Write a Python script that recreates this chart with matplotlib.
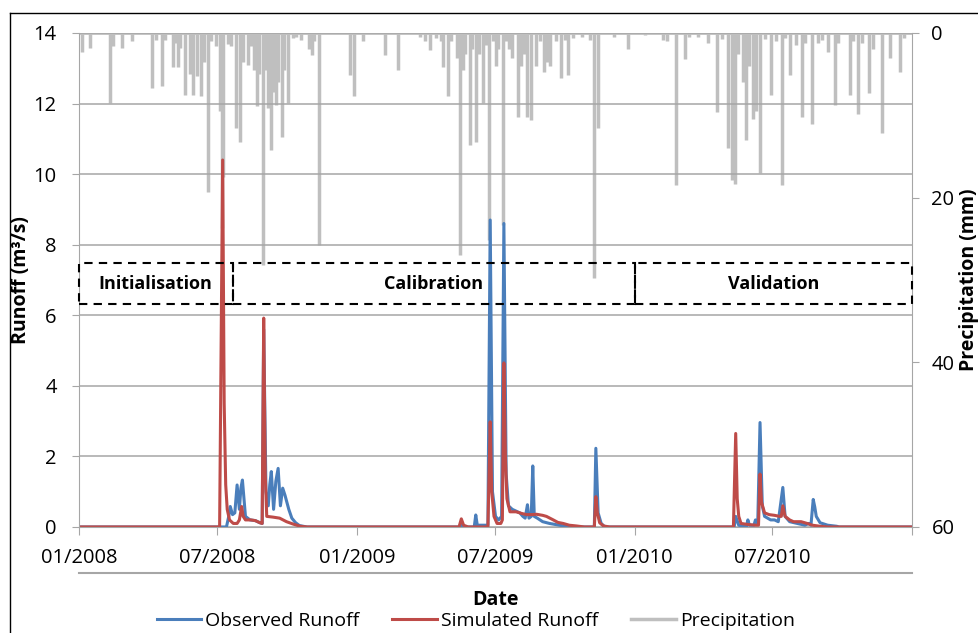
import numpy as np
import matplotlib
matplotlib.use("Agg")
import matplotlib.pyplot as plt
from matplotlib.lines import Line2D
from matplotlib.patches import Rectangle

# days counted from 01/01/2008
start = np.datetime64("2008-01-01")
end = np.datetime64("2011-01-01")

precip_day = [4, 14, 41, 45, 56, 70, 96, 101, 109, 113, 124, 127, 130, 133, 139, 146, 150, 155,
              161, 164, 170, 174, 180, 186, 188, 190, 196, 200, 207, 212, 216, 222, 226, 230, 234,
              237, 242, 245, 248, 253, 256, 259, 262, 267, 270, 275, 281, 285, 292, 303, 306, 309,
              316, 357, 362, 373, 403, 420, 448, 455, 462, 470, 476, 479, 485, 490, 497, 501, 505,
              508, 514, 517, 522, 526, 532, 535, 539, 545, 548, 551, 558, 562, 566, 570, 577, 581,
              586, 590, 595, 601, 606, 612, 616, 620, 627, 634, 640, 644, 650, 662, 672, 678, 683,
              704, 722, 745, 769, 774, 785, 797, 803, 815, 828, 840, 846, 854, 859, 863, 867, 873,
              877, 882, 887, 891, 896, 903, 911, 917, 925, 929, 936, 943, 951, 955, 965, 972, 978,
              986, 995, 999, 1014, 1018, 1025, 1030, 1039, 1045, 1056, 1067, 1080, 1086]
precip_mm = [2.3, 1.8, 8.5, 1.6, 1.8, 1.0, 6.7, 0.8, 6.5, 0.8, 4.1, 1.2, 4.1, 1.8, 7.5, 5.0, 7.5, 5.2,
             7.7, 3.5, 19.3, 1.0, 1.6, 9.5, 23.7, 17.5, 1.3, 1.6, 11.5, 13.2, 3.5, 3.9, 1.6, 4.5, 8.9,
             5.0, 28.2, 4.5, 9.1, 14.2, 7.2, 8.7, 6.0, 12.6, 4.5, 8.5, 0.6, 0.5, 0.8, 2.0, 2.7, 1.0,
             25.7, 5.1, 7.7, 1.0, 2.7, 4.5, 0.5, 1.0, 2.1, 0.6, 1.0, 4.1, 7.7, 1.0, 3.0, 27.0, 4.5,
             2.5, 13.6, 2.0, 13.2, 2.5, 8.5, 1.5, 25.1, 1.0, 4.0, 2.0, 23.3, 1.0, 2.0, 3.0, 10.2, 4.0,
             2.5, 10.2, 10.6, 4.0, 1.0, 4.7, 3.5, 4.0, 1.0, 5.5, 0.8, 5.1, 0.6, 0.5, 0.8, 29.8, 11.5,
             0.5, 1.9, 0.3, 0.8, 1.0, 18.5, 3.1, 0.5, 0.5, 1.2, 9.6, 0.7, 14.0, 17.8, 18.3, 2.5, 6.0,
             13.0, 4.0, 10.4, 9.5, 17.0, 0.7, 7.5, 1.0, 18.5, 0.6, 5.1, 1.5, 10.2, 1.2, 11.0, 1.2, 0.8,
             2.3, 8.7, 1.2, 7.5, 1.0, 9.8, 1.2, 7.3, 2.0, 12.2, 3.0, 4.7, 0.6]

obs_day = [0, 194, 197, 199, 202, 205, 208, 211, 213, 215, 219, 225, 232, 238, 241, 243, 246, 249,
           251, 253, 256, 259, 262, 265, 268, 271, 276, 280, 285, 290, 300,
           500, 503, 506, 520, 522, 524, 538, 541, 544, 548, 552, 556, 559, 562, 565, 570, 575,
           580, 584, 587, 590, 592, 595, 597, 599, 603, 610, 619, 632, 645,
           678, 680, 683, 687, 692,
           862, 864, 868, 878, 880, 882, 888, 890, 893, 896, 899, 902, 906, 910, 915, 920, 926,
           929, 935, 945, 955, 960, 963, 966, 968, 970, 975, 985, 997, 1000, 1096]
obs_val = [0, 0, 0.3, 0.58, 0.35, 0.4, 1.19, 0.5, 1.1, 1.33, 0.3, 0.2, 0.18, 0.12, 0.1, 5.6, 1.0, 0.6,
           1.2, 1.57, 0.5, 1.3, 1.66, 0.6, 1.1, 0.9, 0.5, 0.25, 0.12, 0.04, 0,
           0, 0.05, 0, 0, 0.34, 0.05, 0.05, 8.7, 1.0, 0.3, 0.2, 0.3, 8.6, 1.5, 0.6, 0.5, 0.45,
           0.4, 0.3, 0.25, 0.63, 0.25, 0.3, 1.73, 0.3, 0.25, 0.15, 0.1, 0.05, 0,
           0, 2.23, 0.4, 0.1, 0,
           0, 0.3, 0.05, 0, 0.2, 0.05, 0.05, 0.2, 0.1, 2.96, 0.6, 0.3, 0.25, 0.2, 0.2, 0.15, 1.12,
           0.3, 0.15, 0.1, 0.05, 0.1, 0.05, 0.78, 0.57, 0.3, 0.12, 0.05, 0.02, 0, 0]

sim_day = [0, 185, 189, 191, 193, 195, 198, 203, 208, 211, 214, 216, 219, 226, 232, 238, 241, 243,
           245, 247, 255, 264, 273, 282, 291, 300,
           500, 503, 506, 512, 538, 541, 543, 546, 550, 555, 557, 559, 561, 563, 567, 575, 583,
           589, 595, 602, 610, 615, 624, 630, 637, 645, 654, 665,
           678, 680, 682, 685, 690, 698,
           861, 864, 866, 868, 871, 880, 890, 894, 896, 898, 902, 908, 915, 922, 924, 926, 929,
           935, 940, 950, 958, 965, 975, 985, 1096]
sim_val = [0, 0, 10.4, 3.5, 1.2, 0.5, 0.2, 0.1, 0.1, 0.2, 0.58, 0.3, 0.2, 0.2, 0.18, 0.12, 0.1, 5.92,
           1.5, 0.3, 0.28, 0.25, 0.15, 0.08, 0.02, 0,
           0, 0.23, 0.05, 0, 0, 2.98, 1.0, 0.3, 0.1, 0.1, 0.2, 4.65, 2.0, 0.8, 0.43, 0.43, 0.38,
           0.35, 0.35, 0.36, 0.33, 0.3, 0.2, 0.13, 0.1, 0.05, 0.03, 0,
           0, 0.86, 0.4, 0.12, 0.03, 0,
           0, 2.65, 0.8, 0.3, 0.1, 0.07, 0.05, 0.05, 1.5, 0.7, 0.4, 0.35, 0.33, 0.3, 0.3, 0.6, 0.3,
           0.2, 0.15, 0.15, 0.1, 0.05, 0.02, 0, 0]

period_names = ["Initialisation", "Calibration", "Validation"]
period_edges = ["2008-01-01", "2008-07-21", "2010-01-01", "2011-01-01"]

tick_dates = ["2008-01-01", "2008-07-01", "2009-01-01", "2009-07-01", "2010-01-01", "2010-07-01", "2011-01-01"]
tick_labels = ["01/2008", "07/2008", "01/2009", "07/2009", "01/2010", "07/2010", ""]


def toDates(days):
    return start + np.array(days).astype("timedelta64[D]")


plt.rcParams["font.family"] = ["Open Sans", "DejaVu Sans"]
gridGray = "#A6A6A6"

fig = plt.figure(figsize=(9.79, 6.33), dpi=100)
ax = fig.add_axes([0.0807, 0.1675, 0.8509, 0.7804])
ax2 = ax.twinx()
ax.set_zorder(ax2.get_zorder() + 1)
ax.patch.set_visible(False)

# precipitation on inverted secondary axis
ax2.vlines(toDates(precip_day), 0, precip_mm, color="#BFBFBF", lw=2.5, label="Precipitation")
ax2.axhline(0, color="#BFBFBF", lw=2)
ax2.set_ylim(60, 0)
ax2.set_yticks([0, 20, 40, 60])
ax2.tick_params(axis="y", direction="out", length=5, color=gridGray, labelsize=14.5, pad=9)
ax2.set_ylabel("Precipitation (mm)", fontsize=14, fontweight="bold")
ax2.yaxis.set_label_coords(1.056, 0.5)
for s in ["top", "left", "bottom"]:
    ax2.spines[s].set_visible(False)
ax2.spines["right"].set_color(gridGray)

ax.plot(toDates(obs_day), obs_val, color="#4A7EBB", lw=2.2, label="Observed Runoff")
ax.plot(toDates(sim_day), sim_val, color="#BE4B48", lw=2.2, label="Simulated Runoff")

ax.set_xlim(start, end)
ax.set_ylim(0, 14)
ax.set_yticks(range(0, 15, 2))
ax.yaxis.grid(True, color=gridGray, lw=1.1)
ax.set_xticks([np.datetime64(d) for d in tick_dates])
ax.set_xticklabels(tick_labels)
ax.tick_params(axis="y", direction="out", length=5, color=gridGray, labelsize=14.5, pad=11)
ax.tick_params(axis="x", direction="out", length=6, color=gridGray, labelsize=14.5, pad=9)
for s in ["top", "right"]:
    ax.spines[s].set_visible(False)
ax.spines["left"].set_color(gridGray)
ax.spines["bottom"].set_color(gridGray)
ax.set_ylabel("Runoff (m³/s)", fontsize=14, fontweight="bold")
ax.yaxis.set_label_coords(-0.058, 0.5)
ax.set_xlabel("Date", fontsize=14, fontweight="bold", labelpad=16)

# line under the date labels
ax.plot([0, 1], [-0.093, -0.093], transform=ax.transAxes, clip_on=False, color=gridGray, lw=1.5)

# period boxes
boxLow, boxHigh = 6.32, 7.48
for name, a, b in zip(period_names, period_edges[:-1], period_edges[1:]):
    x0 = matplotlib.dates.date2num(np.datetime64(a))
    x1 = matplotlib.dates.date2num(np.datetime64(b))
    ax.add_patch(Rectangle((x0, boxLow), x1 - x0, boxHigh - boxLow, fill=False,
                           ec="black", lw=1.5, ls=(0, (4, 3)), zorder=5, clip_on=False))
    ax.text((x0 + x1) / 2, (boxLow + boxHigh) / 2, name, ha="center", va="center",
            fontsize=13, fontweight="bold", zorder=6)

h1, l1 = ax.get_legend_handles_labels()
h2 = [Line2D([], [], color="#BFBFBF", lw=2.5)]
fig.legend(h1 + h2, l1 + ["Precipitation"], loc="center", bbox_to_anchor=(0.486, 0.019),
           ncol=3, frameon=False, fontsize=14, handlelength=2.3, handletextpad=0.2,
           columnspacing=1.7)

# outer frame, cropped at right and bottom
fig.add_artist(Line2D([10 / 979, 1.0], [1 - 13 / 633] * 2, transform=fig.transFigure, color="black", lw=1))
fig.add_artist(Line2D([10 / 979] * 2, [0, 1 - 13 / 633], transform=fig.transFigure, color="black", lw=1))

fig.savefig("out.png", dpi=100)
